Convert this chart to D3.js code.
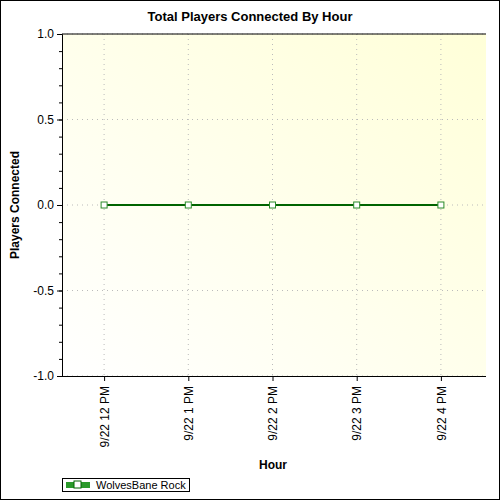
<!DOCTYPE html><html><head><script src="https://cdn.jsdelivr.net/npm/d3@7"></script>
<style>body{margin:0}text{font-family:"Liberation Sans",Arial,sans-serif}</style></head><body><script>
const categories=["9/22 12 PM","9/22 1 PM","9/22 2 PM","9/22 3 PM","9/22 4 PM"];
const values=[0,0,0,0,0];
const yTicks=[-1,-0.5,0,0.5,1];
const seriesName="WolvesBane Rock";
const W=500,H=500,L=62,R=486,T=34,B=376;
const svg=d3.select("body").append("svg").attr("width",W).attr("height",H);
const defs=svg.append("defs");
const g=defs.append("linearGradient").attr("id","bg").attr("x1","0").attr("y1","1").attr("x2","1").attr("y2","0");
g.append("stop").attr("offset","0").attr("stop-color","#ffffff");
g.append("stop").attr("offset","1").attr("stop-color","#ffffd8");
svg.append("rect").attr("width",W).attr("height",H).attr("fill","#fff");
svg.append("rect").attr("x",0.5).attr("y",0.5).attr("width",W-1).attr("height",H-1).attr("fill","none").attr("stroke","#000");
svg.append("rect").attr("x",L).attr("y",T).attr("width",R-L).attr("height",B-T).attr("fill","url(#bg)");
const x=d3.scalePoint().domain(categories).range([L,L+421]).padding(0.5);
const y=d3.scaleLinear().domain([-1,1]).range([B,T]);
// grid
svg.append("g").selectAll("line").data(yTicks).join("line").attr("x1",L).attr("x2",R).attr("y1",d=>y(d)).attr("y2",d=>y(d)).attr("stroke","#bbb").attr("stroke-dasharray","1,4");
svg.append("g").selectAll("line").data(categories).join("line").attr("y1",T).attr("y2",B).attr("x1",d=>x(d)).attr("x2",d=>x(d)).attr("stroke","#bbb").attr("stroke-dasharray","1,4");
svg.append("line").attr("x1",L).attr("x2",R).attr("y1",T).attr("y2",T).attr("stroke","#000");
// y axis
const ya=svg.append("g").attr("transform",`translate(${L},0)`).call(d3.axisLeft(y).tickValues(yTicks).tickFormat(d3.format(".1f")).tickSize(5));
ya.selectAll("text").attr("font-size",12).attr("fill","#000").text(d=>d3.format(".1f")(d).replace("−","-"));
svg.append("g").attr("transform",`translate(${L},0)`).call(d3.axisLeft(y).tickValues(d3.range(-10,11).map(d=>d/10)).tickFormat("").tickSize(3)).select(".domain").remove();
// x axis
const xa=svg.append("g").attr("transform",`translate(0,${B})`).call(d3.axisBottom(x).tickSize(5).tickSizeOuter(0));
xa.select(".domain").attr("d",`M${L},0.5H${R}`);
xa.selectAll("text").attr("font-size",12).attr("fill","#000").attr("transform","rotate(-90)").attr("text-anchor","end").attr("x",-10).attr("y",0).attr("dy","0.35em");
svg.selectAll(".domain,.tick line").attr("stroke","#000");
// line
svg.append("path").datum(values).attr("fill","none").attr("stroke","#006400").attr("stroke-width",2)
 .attr("d",d3.line().x((d,i)=>x(categories[i])).y(d=>y(d)));
svg.append("g").selectAll("rect").data(values).join("rect").attr("x",(d,i)=>x(categories[i])-3).attr("y",d=>y(d)-3).attr("width",6).attr("height",6).attr("fill","#fff").attr("stroke","#2a8a2a");
// titles
svg.append("text").attr("x",250).attr("y",21).attr("text-anchor","middle").attr("font-size",13).attr("font-weight","bold").text("Total Players Connected By Hour");
svg.append("text").attr("x",273).attr("y",469).attr("text-anchor","middle").attr("font-size",12).attr("font-weight","bold").text("Hour");
svg.append("text").attr("transform","translate(19,205) rotate(-90)").attr("text-anchor","middle").attr("font-size",12).attr("font-weight","bold").text("Players Connected");
// legend
const lg=svg.append("g");
lg.append("rect").attr("x",62.5).attr("y",478.5).attr("width",127).attr("height",13).attr("fill","#fff").attr("stroke","#000");
lg.append("rect").attr("x",66).attr("y",482).attr("width",24).attr("height",6).attr("fill","#2a9a2a");
lg.append("rect").attr("x",74).attr("y",481).attr("width",7).attr("height",7).attr("fill","#fff").attr("stroke","#006400");
lg.append("text").attr("x",96).attr("y",489).attr("font-size",11).text(seriesName);
</script></body></html>
